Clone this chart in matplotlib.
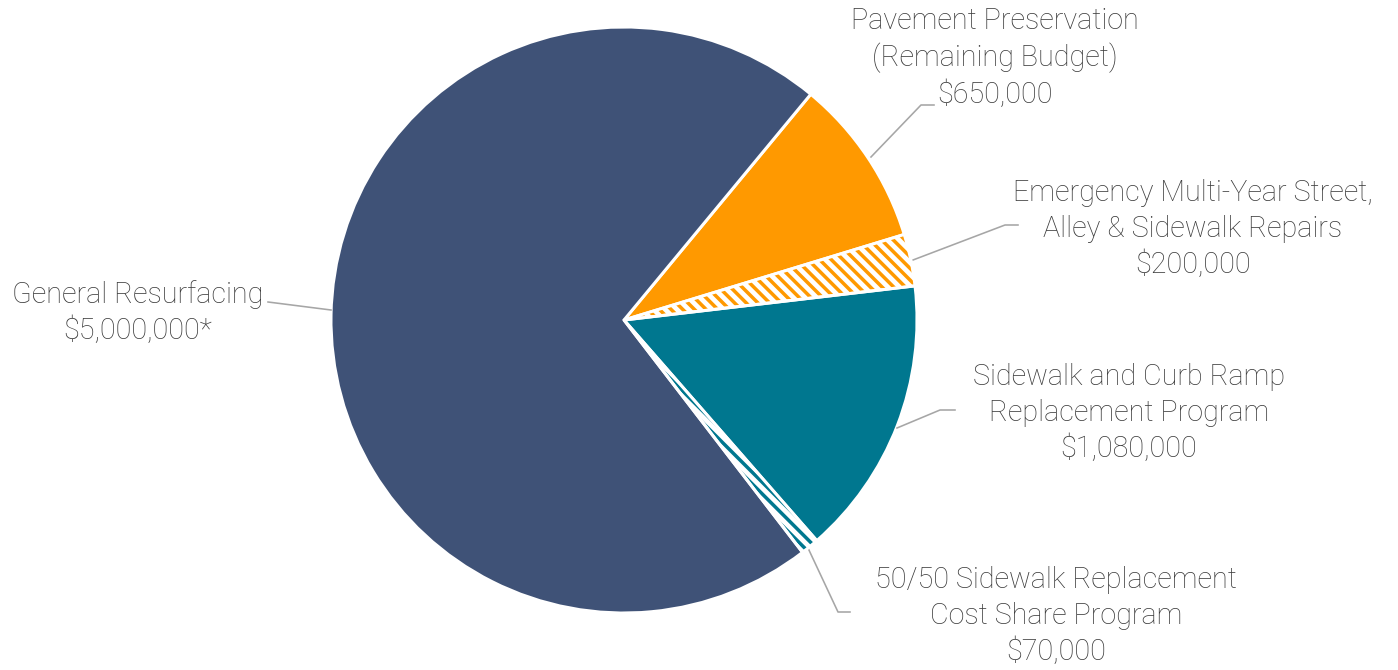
import matplotlib.pyplot as plt
from matplotlib.patches import Wedge

DPI = 70
plt.rcParams['font.family'] = ['Roboto', 'DejaVu Sans']
plt.rcParams['hatch.linewidth'] = 3.6

# budget slices, clockwise from the top right
programs = ["Pavement Preservation\n(Remaining Budget)",
            "Emergency Multi-Year Street,\nAlley & Sidewalk Repairs",
            "Sidewalk and Curb Ramp\nReplacement Program",
            "50/50 Sidewalk Replacement\nCost Share Program",
            "General Resurfacing"]
amounts = [650000, 200000, 1080000, 70000, 5000000]
amount_text = ["$650,000", "$200,000", "$1,080,000", "$70,000", "$5,000,000*"]
colors = ["#FF9900", "#FF9900", "#00778F", "#00778F", "#3F5277"]
hatched = [False, True, False, True, False]

fig = plt.figure(figsize=(1399 / DPI, 670 / DPI), dpi=DPI)
ax = fig.add_axes([0, 0, 1, 1])

cx, cy, r = 624, -320, 293
wedges, _ = ax.pie(amounts, colors=colors, startangle=50.4, counterclock=False,
                   center=(cx, cy), radius=r, frame=True,
                   wedgeprops=dict(edgecolor="white", linewidth=3 * 72 / DPI))
ax.set_xlim(0, 1399)
ax.set_ylim(-670, 0)
ax.axis("off")

for w, col, h in zip(wedges, colors, hatched):
    if h:
        w.set_facecolor("white")
        w.set_edgecolor(col)
        w.set_hatch("\\\\")
        w.set_linewidth(0)
        ax.add_patch(Wedge(w.center, w.r, w.theta1, w.theta2, fill=False,
                           edgecolor="white", linewidth=3 * 72 / DPI, zorder=3))

fs = 28.7 * 72 / DPI
tc = "#3C3C3C"
lc = "#A6A6A6"
lw = 1.6 * 72 / DPI

# leader lines (pixel coords) and label positions
leaders = [
    [(871, 157), (921, 105), (934, 105)],
    [(913, 260), (1005, 225), (1018, 225)],
    [(897, 428), (940, 410), (955, 410)],
    [(808, 548), (838, 612), (850, 612)],
    [(331, 310), (268, 302)],
]
label_pos = [(995, 58), (1193, 229), (1129, 413), (1056, 616), (138, 313)]

for pts, (tx, ty), name, amt in zip(leaders, label_pos, programs, amount_text):
    ax.plot([p[0] for p in pts], [-p[1] for p in pts], color=lc, lw=lw, zorder=1)
    ax.text(tx, -ty, name + "\n" + amt, ha="center", va="center", fontsize=fs,
            color=tc, fontweight="light", linespacing=1.33)

fig.savefig("out.png", dpi=DPI)
